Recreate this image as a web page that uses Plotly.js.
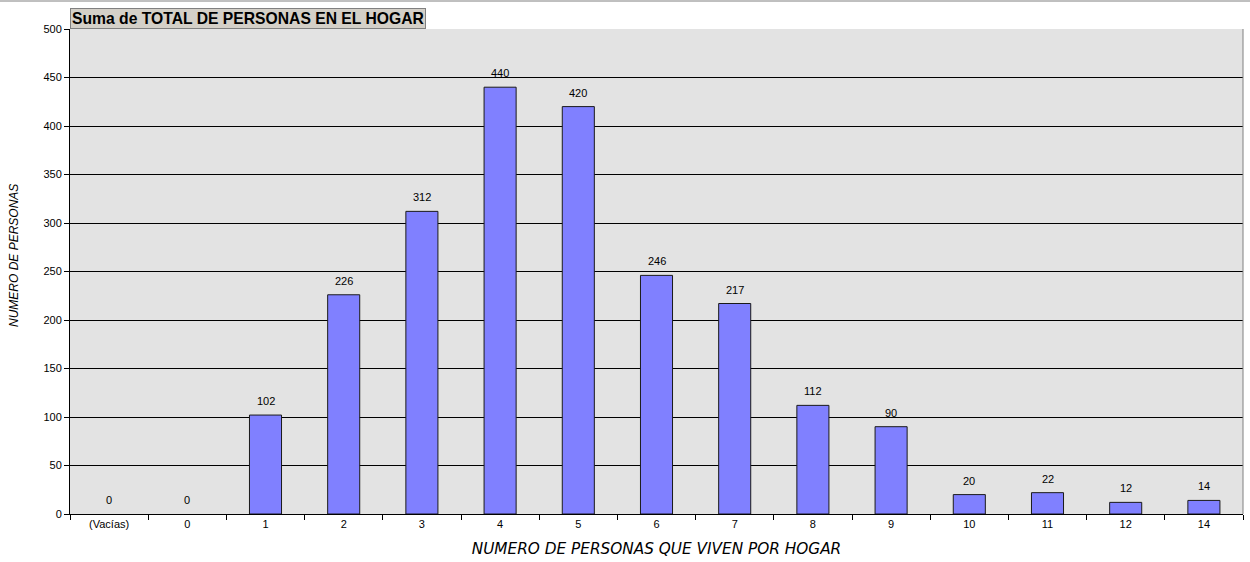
<!DOCTYPE html>
<html><head><meta charset="utf-8">
<script src="https://cdn.plot.ly/plotly-3.0.1.min.js"></script>
<style>html,body{margin:0;padding:0;background:#fff;}#chart{width:1250px;height:562px;}</style>
</head><body><div id="chart"></div>
<script>
const categories = ["(Vacías)","0","1","2","3","4","5","6","7","8","9","10","11","12","14"];
const values = [0,0,102,226,312,440,420,246,217,112,90,20,22,12,14];
const yTicks = [0,50,100,150,200,250,300,350,400,450,500];

const trace = {
  type: 'bar',
  x: categories,
  y: values,
  marker: {color: '#8080ff', line: {color: '#1a1a1a', width: values.map(v => v === 0 ? 0 : 1)}},
  width: 0.41,
  hoverinfo: 'x+y'
};

const labelAnnotations = categories.map((c, i) => ({
  x: i, y: values[i], xref: 'x', yref: 'y',
  text: String(values[i]), showarrow: false,
  xanchor: 'center', yanchor: 'bottom', yshift: 6,
  font: {family: 'Arial, Liberation Sans', size: 11, color: '#000'}
}));

const layout = {
  width: 1250, height: 562,
  margin: {l: 70, r: 7, t: 29, b: 48},
  paper_bgcolor: '#ffffff',
  plot_bgcolor: '#e3e3e3',
  showlegend: false,
  font: {family: 'Arial, Liberation Sans', size: 11, color: '#000'},
  xaxis: {
    type: 'category',
    tickson: 'boundaries',
    ticks: 'outside', ticklen: 5, tickcolor: '#000',
    showline: true, linecolor: '#000', linewidth: 1, mirror: false,
    showgrid: false,
    tickfont: {size: 11},
    title: {text: '<i>NUMERO DE PERSONAS QUE VIVEN POR HOGAR</i>', font: {size: 15.3, family: 'DejaVu Sans'}, standoff: 14}
  },
  yaxis: {
    range: [0, 500],
    tickvals: yTicks,
    ticks: 'outside', ticklen: 5, tickcolor: '#000',
    showline: true, linecolor: '#000', linewidth: 1,
    showgrid: true, gridcolor: '#000', gridwidth: 1,
    zeroline: false,
    tickfont: {size: 11}
  },
  shapes: [
    {type: 'line', xref: 'paper', yref: 'paper', x0: 1, x1: 1, y0: 0, y1: 1, line: {color: '#808080', width: 1}},
    {type: 'line', xref: 'paper', yref: 'paper', x0: -0.06, x1: 1.006, y0: 1.0577, y1: 1.0577, line: {color: '#808080', width: 1}}
  ],
  annotations: [
    {xref: 'paper', yref: 'paper', x: 0, y: 1, xanchor: 'left', yanchor: 'bottom',
     text: '<b>Suma de TOTAL DE PERSONAS EN EL HOGAR</b>', showarrow: false,
     font: {family: 'Arial, Liberation Sans', size: 15.7, color: '#000'},
     bgcolor: '#d4d0c8', bordercolor: '#808080', borderwidth: 1, borderpad: 1},
    {xref: 'paper', yref: 'paper', x: -0.0477, y: 0.532, xanchor: 'center', yanchor: 'middle',
     text: '<i>NUMERO DE PERSONAS</i>', showarrow: false, textangle: -90,
     font: {family: 'Arial, Liberation Sans', size: 12, color: '#000'}}
  ].concat(labelAnnotations)
};

Plotly.newPlot('chart', [trace], layout, {displayModeBar: false});
</script></body></html>
